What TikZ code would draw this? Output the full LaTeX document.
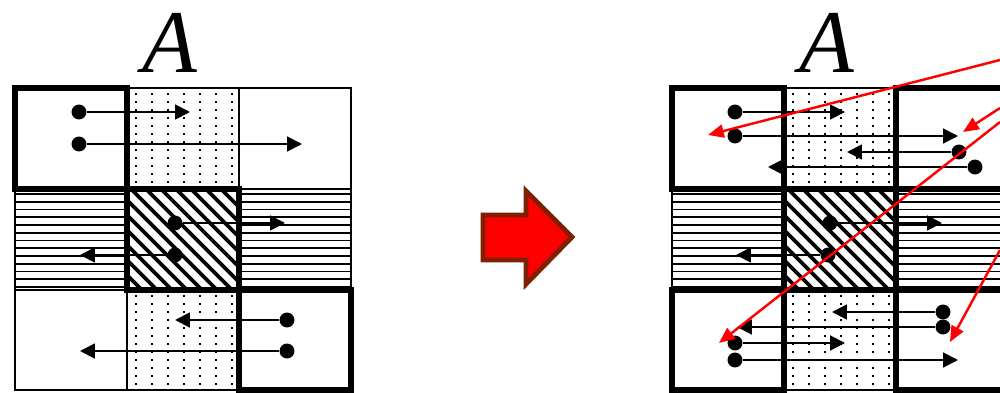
\documentclass[tikz,border=0pt]{standalone}
\usepackage{fontspec}
\setmainfont{Liberation Serif}
\usetikzlibrary{arrows.meta}
\definecolor{blockred}{RGB}{255,0,0}
\definecolor{blockedge}{RGB}{128,32,0}

\begin{document}
\begin{tikzpicture}[x=0.02cm,y=-0.02cm,
  dot/.style={circle,fill=black,inner sep=0pt,minimum size=8.5pt},
  arr/.style={line width=1.1pt,-{Triangle[length=8.5pt,width=8.5pt]}},
  redarr/.style={red,line width=1.4pt,-{Triangle[length=9pt,width=7.5pt]}},
  gridline/.style={line width=0.85pt},
  boxline/.style={line width=3.8pt},
  title/.style={font=\fontsize{51}{51}\selectfont\itshape}]
\clip (0,0) rectangle (1000,392);
% cell patterns, same in both panels
\foreach \ox in {0,657}{
  \begin{scope}[shift={(\ox,0)}]
  % stippled cells
  \foreach \cy in {88,290}
    \foreach \i in {0,...,6}
      \foreach \j in {0,...,11}
        \fill (135+16*\i,\cy+5+8*\j) rectangle ++(1.8,1.8);
  % horizontal stripes
  \foreach \cx in {15,239}
    \foreach \k in {0,...,12}
      \draw[line width=1.1pt] (\cx,194+7.75*\k) -- ++(112,0);
  % hatched centre
  \begin{scope}
    \clip (127,189) rectangle (239,290);
    \foreach \k in {-8,...,8}
      \draw[line width=2.2pt] (127+15*\k,185) -- ++(110,110);
  \end{scope}
  % grid
  \draw[gridline] (15,88) rectangle (351,390);
  \draw[gridline] (127,88) -- (127,390) (239,88) -- (239,390)
    (15,189) -- (351,189) (15,290) -- (351,290);
  \end{scope}
}
% thick boxes, left
\draw[boxline] (15,88) rectangle (127,189);
\draw[line width=3pt] (127,189) rectangle (239,290);
\draw[boxline] (239,290) rectangle (351,390);
% thick boxes, right
\draw[boxline] (672,88) rectangle (784,189);
\draw[boxline] (896,88) rectangle (1008,189);
\draw[boxline] (784,189) rectangle (896,290);
\draw[boxline] (672,290) rectangle (784,390);
\draw[boxline] (896,290) rectangle (1008,390);

% titles
\node[title] (tA1) at (170,43) {A};
\node[title] (tA2) at (827,43) {A};

% left panel arrows
\node[dot] (l1) at (79,112) {};  \coordinate (l1e) at (190,112);
\node[dot] (l2) at (79,144) {};  \coordinate (l2e) at (302,144);
\node[dot] (l3) at (175,223) {}; \coordinate (l3e) at (285,223);
\node[dot] (l4) at (175,255) {}; \coordinate (l4e) at (80,255);
\node[dot] (l5) at (287,320) {}; \coordinate (l5e) at (175,320);
\node[dot] (l6) at (287,351) {}; \coordinate (l6e) at (80,351);
\foreach \n in {l1,l2,l3,l4,l5,l6}
  \draw[arr] (\n) -- (\n e);

% right panel arrows
\node[dot] (r1) at (735,112) {};  \coordinate (r1e) at (845,112);
\node[dot] (r2) at (735,136) {};  \coordinate (r2e) at (958,136);
\node[dot] (r3) at (959,152) {};  \coordinate (r3e) at (847,152);
\node[dot] (r4) at (975,167) {};  \coordinate (r4e) at (768,167);
\node[dot] (r5) at (830,223) {};  \coordinate (r5e) at (942,223);
\node[dot] (r6) at (828,255) {};  \coordinate (r6e) at (736,255);
\node[dot] (r7) at (943,312) {};  \coordinate (r7e) at (832,312);
\node[dot] (r8) at (943,327) {};  \coordinate (r8e) at (737,327);
\node[dot] (r9) at (735,343) {};  \coordinate (r9e) at (845,343);
\node[dot] (r10) at (735,360) {}; \coordinate (r10e) at (958,360);
\foreach \n in {r1,r2,r3,r4,r5,r6,r7,r8,r9,r10}
  \draw[arr] (\n) -- (\n e);

% red arrows coming in from the right
\coordinate (s1) at (1000,60);  \coordinate (t1) at (708,135);
\coordinate (s2) at (1000,108); \coordinate (t2) at (963,132);
\coordinate (s3) at (1000,122); \coordinate (t3) at (719,343);
\coordinate (s4) at (1000,250); \coordinate (t4) at (950,342);
\foreach \k in {1,2,3,4}
  \draw[redarr] (s\k) -- (t\k);

% block arrow
\draw[blockedge,fill=blockred,line width=2.8pt,line join=miter]
  (483,215) -- (526,215) -- (526,191) -- (572,237) -- (526,284)
  -- (526,260) -- (483,260) -- cycle;
\end{tikzpicture}
\end{document}
